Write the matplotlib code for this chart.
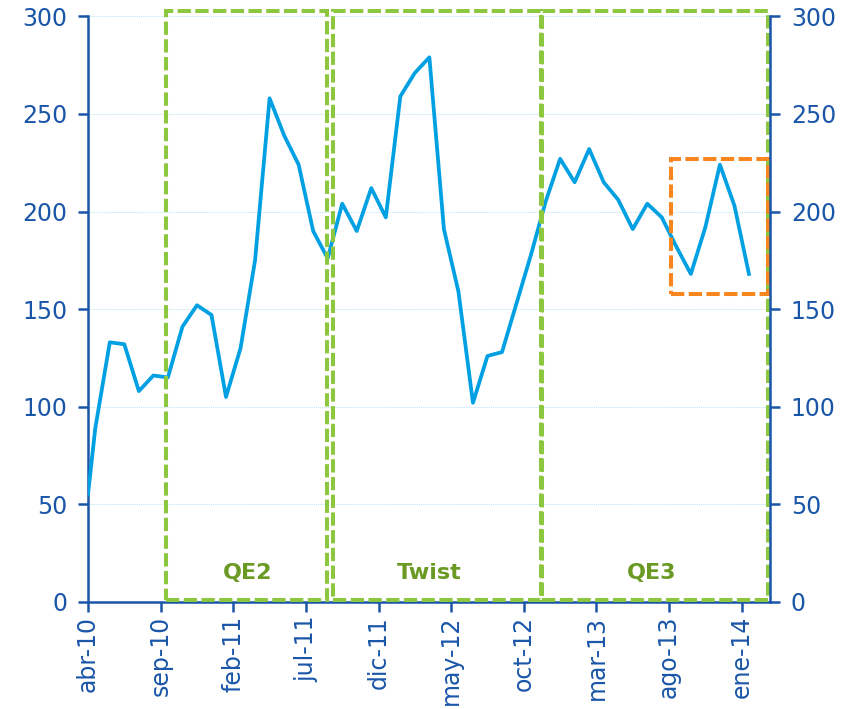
import matplotlib.pyplot as plt
from matplotlib.patches import Rectangle

# etiquetas del eje x (cada 5 meses desde abr-10)
tick_labels = ["abr-10", "sep-10", "feb-11", "jul-11", "dic-11",
               "may-12", "oct-12", "mar-13", "ago-13", "ene-14"]
tick_pos = [0, 5, 10, 15, 20, 25, 30, 35, 40, 45]

# serie mensual abr-10 .. ene-14 (punto a mitad de cada mes)
values = [89, 133, 132, 108, 116, 115, 141, 152, 147, 105, 130, 175,
          258, 239, 224, 190, 176, 204, 190, 212, 197, 259, 271, 279,
          191, 159, 102, 126, 128, 153, 178, 205, 227, 215, 232, 215,
          206, 191, 204, 197, 182, 168, 192, 224, 203, 168]
start_value = 55  # valor en el borde izquierdo del eje

# periodos (inicio, fin en meses desde abr-10)
periods = ["QE2", "Twist", "QE3"]
period_start = [5.34, 16.84, 31.22]
period_end = [16.42, 31.15, 46.84]
period_label_x = [11.0, 23.5, 38.8]

# recuadro naranja
box_x = [40.1, 46.84]
box_y = [158, 227]

BLUE = "#1a56a8"
LINE = "#00a0e3"
GREEN = "#8dc63f"
GREEN_TXT = "#6a9a23"
ORANGE = "#f7861e"

fig = plt.figure(figsize=(8.57, 7.09), dpi=100)
ax = fig.add_axes([0.1027, 0.151, 0.7958, 0.826])

x = [0] + [i + 0.5 for i in range(len(values))]
y = [start_value] + values
ax.plot(x, y, color=LINE, lw=2.7, zorder=3)

ax.set_xlim(0, 46.95)
ax.set_ylim(0, 300)
ax.set_yticks(range(0, 301, 50))
ax.set_xticks(tick_pos)
ax.set_xticklabels(tick_labels, rotation=90)

for v in range(50, 301, 50):
    ax.axhline(v, color="#bde2f4", lw=0.7, ls=(0, (1, 1)), zorder=0)

dash = (0, (3.3, 1.1))
for s, e in zip(period_start, period_end):
    r = Rectangle((s, 1.2), e - s, 301.5, fill=False, ec=GREEN, lw=2.9,
                  ls=dash, clip_on=False, zorder=4)
    ax.add_patch(r)
for name, lx in zip(periods, period_label_x):
    ax.text(lx, 15, name, color=GREEN_TXT, fontsize=16, fontweight="bold",
            ha="center", va="center", zorder=5)

ax.add_patch(Rectangle((box_x[0], box_y[0]), box_x[1] - box_x[0],
                       box_y[1] - box_y[0], fill=False, ec=ORANGE, lw=2.9,
                       ls=dash, clip_on=False, zorder=5))

ax2 = ax.twinx()
ax2.set_ylim(0, 300)
ax2.set_yticks(range(0, 301, 50))

for a in (ax, ax2):
    a.spines["top"].set_visible(False)
    for sp in ["left", "right", "bottom"]:
        a.spines[sp].set_color(BLUE)
        a.spines[sp].set_linewidth(1.8)
    a.tick_params(colors=BLUE, labelsize=17, width=1.8, length=7)
ax.spines["right"].set_visible(False)
ax2.spines["left"].set_visible(False)
ax2.spines["bottom"].set_visible(False)
ax.tick_params(axis="x", labelsize=17, pad=3)
ax.tick_params(axis="y", pad=8)
ax2.tick_params(axis="y", pad=8)

fig.savefig("out.png", dpi=100)
